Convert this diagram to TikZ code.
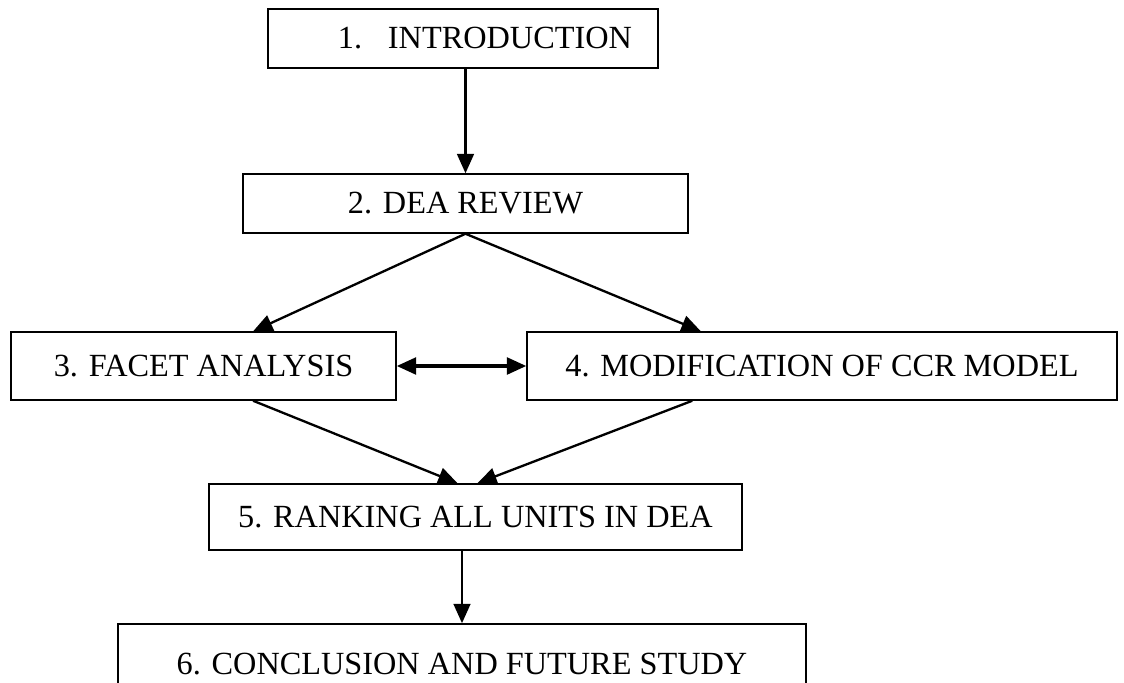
\documentclass[tikz,border=0pt]{standalone}
\usepackage{fontspec}
\setmainfont{Liberation Serif}
\usetikzlibrary{arrows.meta,positioning}

\begin{document}
\begin{tikzpicture}[
    x=0.387pt, y=-0.387pt,
    box/.style={draw, line width=0.6pt, inner sep=0pt, align=center,
                font=\fontsize{12.5}{14}\selectfont},
    arr/.style={-{Triangle[length=7.5pt, width=6.5pt]}, line width=0.9pt},
    darr/.style={{Triangle[length=7.5pt, width=6.5pt]}-{Triangle[length=7.5pt, width=6.5pt]}, line width=1.2pt}
  ]
  \clip (0,0) rectangle (1124,683);
  % --- boxes ---
  \node[box, minimum width=150.9pt, minimum height=22.8pt] (intro) at (463,38.5)
    {\hspace*{17pt}1.\hspace{0.8em}INTRODUCTION};
  \node[box, minimum width=172.2pt, minimum height=22.8pt] (review) at (465.5,203.5)
    {2. DEA REVIEW};
  \node[box, minimum width=149pt, minimum height=26.3pt] (facet) at (203.5,366)
    {3. FACET ANALYSIS};
  \node[box, minimum width=228.3pt, minimum height=26.3pt] (ccr) at (822,366)
    {4. MODIFICATION OF CCR MODEL};
  \node[box, minimum width=206.3pt, minimum height=25.5pt] (rank) at (475.5,517)
    {5. RANKING ALL UNITS IN DEA};
  \node[box, minimum width=266.3pt, minimum height=31pt] (concl) at (462,664)
    {6. CONCLUSION AND FUTURE STUDY};
  % --- connectors ---
  \draw[arr] (intro.south -| review.north) -- (review.north);
  \draw[arr] (review.south) -- (facet.35);
  \draw[arr] (review.south) -- (ccr.164);
  \draw[darr] (facet.east) -- (ccr.west);
  \draw[arr] (facet.-35) -- (rank.118);
  \draw[arr] (ccr.195) -- (rank.87);
  \draw[arr] (rank.south -| concl.north) -- (concl.north);
\end{tikzpicture}
\end{document}
